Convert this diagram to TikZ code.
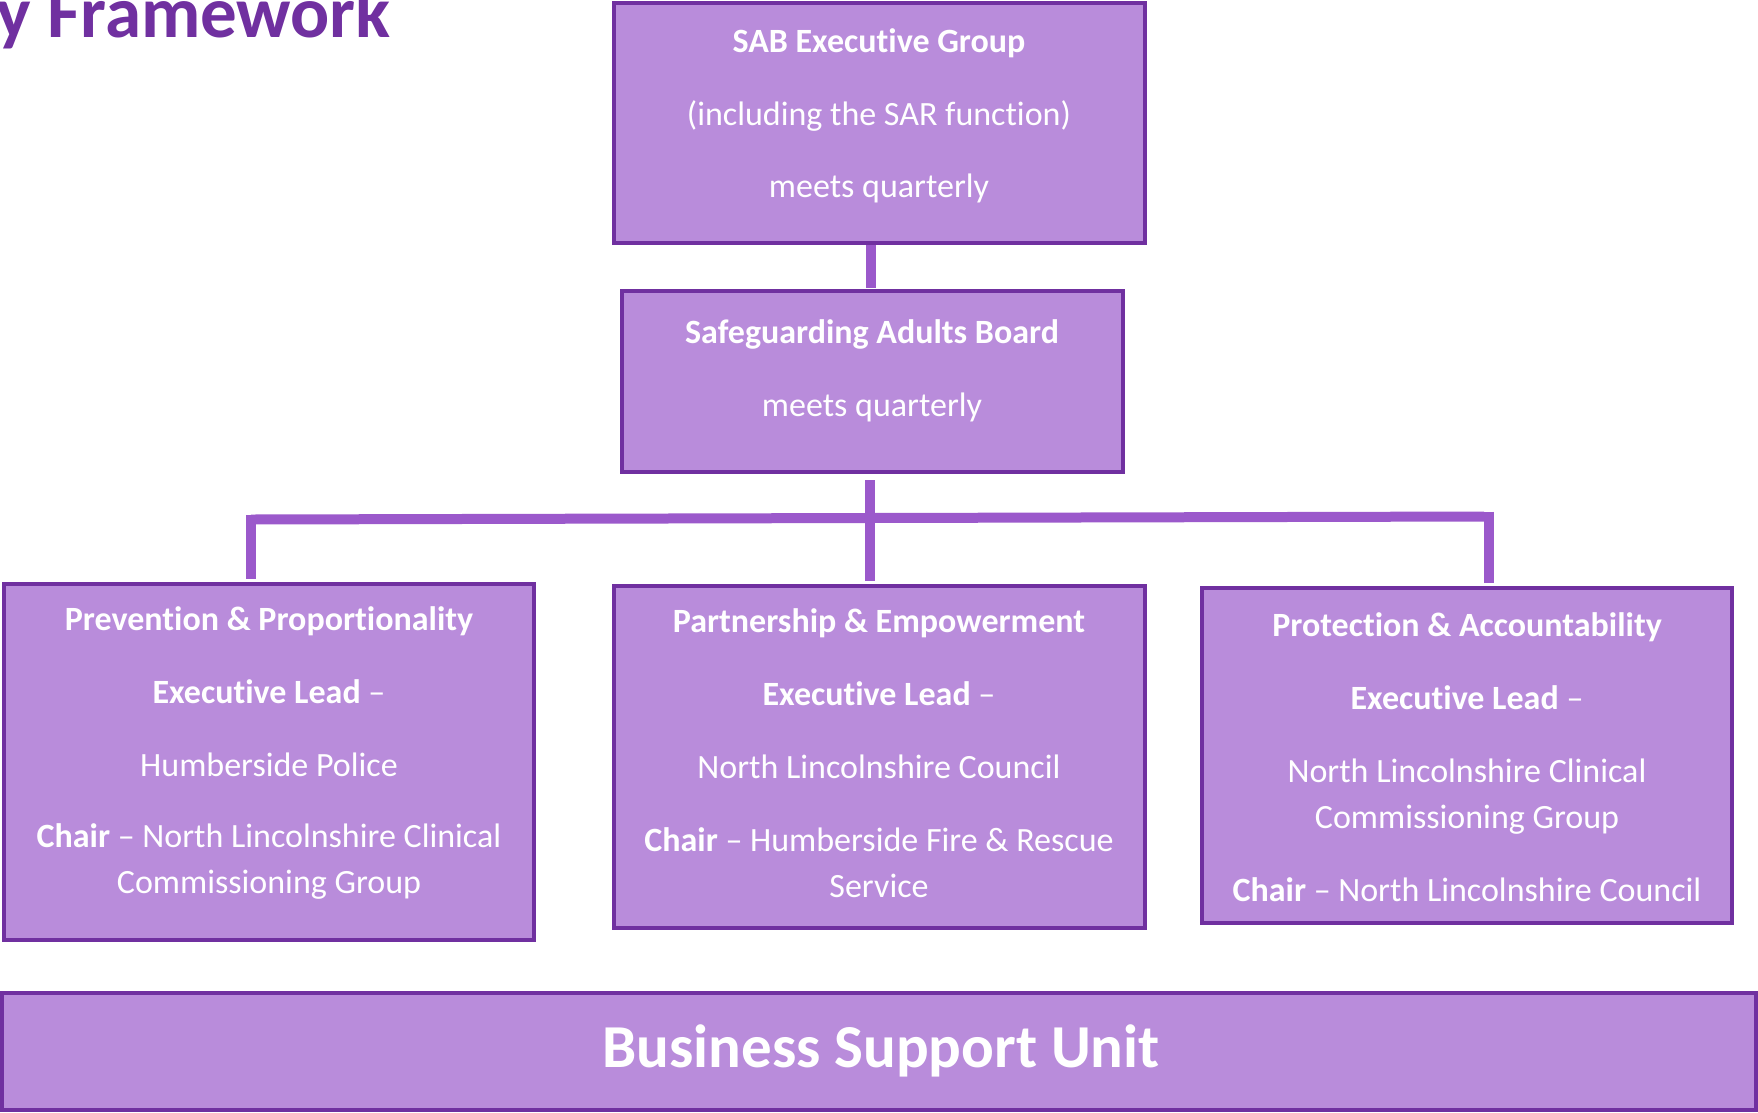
\documentclass[tikz,border=0pt]{standalone}
\usepackage{fontspec}
\setmainfont[Ligatures=NoCommon]{Carlito}
\usetikzlibrary{calc}
\definecolor{boxfill}{HTML}{B98CDB}
\definecolor{boxline}{HTML}{7030A0}
\definecolor{linkc}{HTML}{9B59CB}
\begin{document}
\begin{tikzpicture}[x=1pt,y=-1pt,
  box/.style={draw=boxline, fill=boxfill, line width=4pt, rectangle, inner sep=0pt, outer sep=0pt},
  txt/.style={text=white, font=\fontsize{34}{40}\selectfont, anchor=base, inner sep=0pt},
  link/.style={draw=linkc, line width=10pt, line join=miter}]
\useasboundingbox (0,0) rectangle (1758,1112);
\clip (0,0) rectangle (1758,1112);

% title (cut off at the page edge, as in the reference)
\node[anchor=base east, inner sep=0pt, text=boxline,
      font=\fontsize{73}{80}\selectfont\bfseries] (title) at (391,37) {y Framework};

% boxes
\node[box, minimum width=531pt, minimum height=239.5pt] (A) at (879.5,122.75) {};
\node[box, minimum width=501pt, minimum height=181.5pt] (B) at (872.5,381.25) {};
\node[box, minimum width=530pt, minimum height=356pt]   (C) at (269,762) {};
\node[box, minimum width=531.5pt, minimum height=342.5pt] (D) at (879.25,756.75) {};
\node[box, minimum width=530.5pt, minimum height=334.5pt] (E) at (1466.75,755.25) {};
\node[box, minimum width=1754pt, minimum height=117.5pt] (F) at (879,1051.25) {};

% connectors
\coordinate (busL) at (251,519.5);
\coordinate (busR) at (1489,516.5);
\draw[link, shorten <=2pt, shorten >=3pt] ($(B.north |- A.south)+(-1.5,0)$) -- ($(B.north)+(-1.5,0)$);
\draw[link, shorten <=8pt, shorten >=5pt] ($(B.south)+(-2.5,0)$) -- ($(B.south |- D.north)+(-2.5,0)$);
\draw[link, shorten >=5pt] (busL) -- (busR);
\draw[link, shorten >=5pt] ($(busL)+(0,-5)$) -- (busL |- C.north);
\draw[link, shorten >=5pt] ($(busR)+(0,-5)$) -- (busR |- E.north);

% texts box A
\node[txt] (a1) at (879,52)  {\textbf{SAB Executive Group}};
\node[txt] (a2) at (879,125) {(including the SAR function)};
\node[txt] (a3) at (879,197) {meets quarterly};
% box B
\node[txt] (b1) at (872,343) {\textbf{Safeguarding Adults Board}};
\node[txt] (b2) at (872,416) {meets quarterly};
% box C
\node[txt] (c1) at (269,630) {\textbf{Prevention \& Proportionality}};
\node[txt] (c2) at (269,703) {\textbf{Executive Lead} –};
\node[txt] (c3) at (269,776) {Humberside Police};
\node[txt] (c4) at (269,847) {\textbf{Chair} – North Lincolnshire Clinical};
\node[txt] (c5) at (269,893) {Commissioning Group};
% box D
\node[txt] (d1) at (879,632) {\textbf{Partnership \& Empowerment}};
\node[txt] (d2) at (879,705) {\textbf{Executive Lead} –};
\node[txt] (d3) at (879,778) {North Lincolnshire Council};
\node[txt] (d4) at (879,851) {\textbf{Chair} – Humberside Fire \& Rescue};
\node[txt] (d5) at (879,897) {Service};
% box E
\node[txt] (e1) at (1467,636) {\textbf{Protection \& Accountability}};
\node[txt] (e2) at (1467,709) {\textbf{Executive Lead} –};
\node[txt] (e3) at (1467,782) {North Lincolnshire Clinical};
\node[txt] (e4) at (1467,828) {Commissioning Group};
\node[txt] (e5) at (1467,901) {\textbf{Chair} – North Lincolnshire Council};
% band F
\node[txt, font=\fontsize{61}{70}\selectfont\bfseries] (f1) at (881,1067) {Business Support Unit};
\end{tikzpicture}
\end{document}
